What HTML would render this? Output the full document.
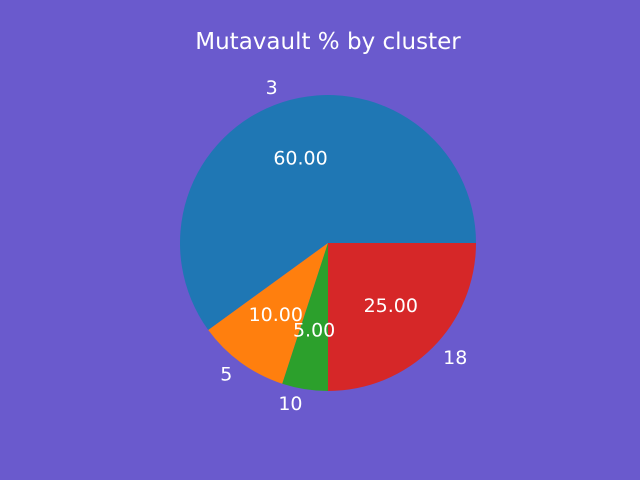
<!DOCTYPE html>
<html><head><meta charset="utf-8"><style>
html,body{margin:0;padding:0;background:#6a5acd;}
svg{display:block;font-family:"DejaVu Sans","Liberation Sans",sans-serif;}
</style></head><body>
<svg id="chart" width="640" height="480" viewBox="0 0 640 480">
<rect width="640" height="480" fill="#6a5acd"/>
<text x="328" y="49" text-anchor="middle" font-size="23" fill="#fff">Mutavault % by cluster</text>
<g id="slices"></g>
<g id="labels"></g>
</svg>
<script>
const categories = ["3","5","10","18"];
const values = [60, 10, 5, 25];
const pctLabels = ["60.00","10.00","5.00","25.00"];
const colors = ["#1f77b4","#ff7f0e","#2ca02c","#d62728"];
const cx = 328, cy = 243, r = 148;
const NS = "http://www.w3.org/2000/svg";
const total = values.reduce((a,b)=>a+b,0);
const gS = document.getElementById('slices'), gL = document.getElementById('labels');
let a0 = 0;
function pt(a, rr){ return [cx + rr*Math.cos(a), cy - rr*Math.sin(a)]; }
values.forEach((v,i)=>{
  const a1 = a0 + v/total*2*Math.PI;
  const [x0,y0] = pt(a0,r), [x1,y1] = pt(a1,r);
  const large = (a1-a0) > Math.PI ? 1 : 0;
  const p = document.createElementNS(NS,'path');
  p.setAttribute('d',`M${cx},${cy} L${x0},${y0} A${r},${r} 0 ${large} 0 ${x1},${y1} Z`);
  p.setAttribute('fill',colors[i]);
  
  
  gS.appendChild(p);
  const am = (a0+a1)/2;
  const [lx,ly] = pt(am, 1.1*r);
  const t = document.createElementNS(NS,'text');
  t.setAttribute('x',lx); t.setAttribute('y',ly);
  t.setAttribute('text-anchor', Math.cos(am) < 0 ? 'end' : 'start');
  t.setAttribute('dominant-baseline','central');
  t.setAttribute('font-size','19'); t.setAttribute('fill','#fff');
  t.textContent = categories[i];
  
  
  gL.appendChild(t);
  const [px,py] = pt(am, 0.6*r);
  const u = document.createElementNS(NS,'text');
  u.setAttribute('x',px); u.setAttribute('y',py);
  u.setAttribute('text-anchor','middle');
  u.setAttribute('dominant-baseline','central');
  u.setAttribute('font-size','19'); u.setAttribute('fill','#fff');
  u.textContent = pctLabels[i];
  
  
  gL.appendChild(u);
  a0 = a1;
});
</script>
</body></html>
